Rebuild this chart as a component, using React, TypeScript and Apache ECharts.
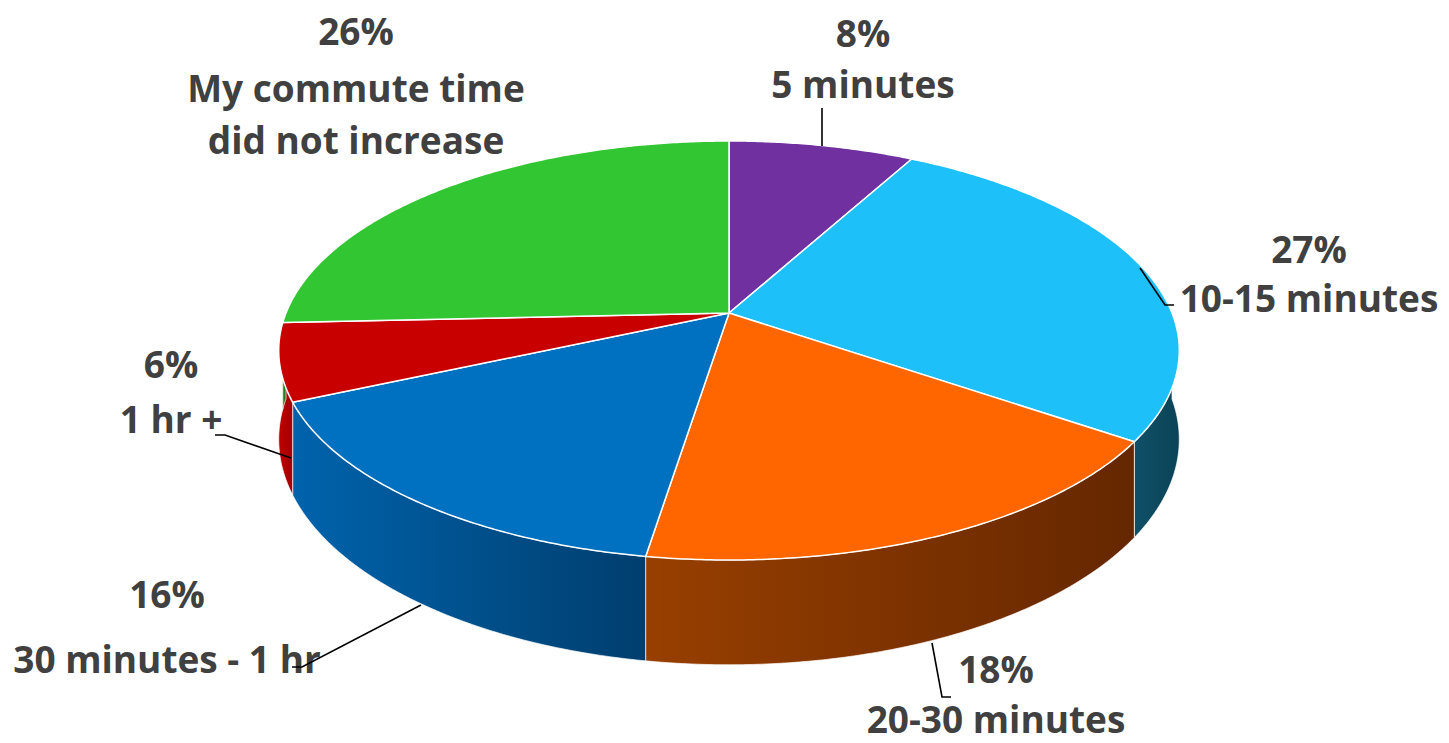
import React, { useEffect, useRef } from 'react';
import * as echarts from 'echarts';

// ---- data ----
const categories = [
  '5 minutes',
  '10-15 minutes',
  '20-30 minutes',
  '30 minutes - 1 hr',
  '1 hr +',
  'My commute time\ndid not increase',
];
const values = [8, 27, 18, 16, 6, 26];

// ---- styles ----
const topColors = ['#7030A0', '#1EC0FA', '#FF6600', '#0070C0', '#C80000', '#33C633'];
const sideColors: string[][] = [
  ['#4F1F75', '#3D1660'],
  ['#0F5068', '#0B4356'],
  ['#983F00', '#652700'],
  ['#0063AC', '#003E6E'],
  ['#C00000', '#A00000'],
  ['#249024', '#1A6E1A'],
];
const textColor = '#404040';
const fontFamily = '"Open Sans", "Noto Sans", sans-serif';
const fontSize = 37;
const lineHeight = 52;

// ---- layout (pie geometry + label placement) ----
const geo = { cx: 729, cy: 313, kx: 443, ky: 202.8, persp: -0.179, depth: 86 };
// [x, yPercent, yName(center of first line)]
const labelPos: number[][] = [
  [863, 32, 83],
  [1309, 248, 297],
  [996, 668, 718],
  [167, 593, 658],
  [171, 363, 418],
  [356, 30, 87],
];
const leaders: number[][][] = [
  [[822, 146], [822, 108]],
  [[1140, 268], [1165, 305], [1174, 305]],
  [[932, 643], [942, 697], [951, 697]],
  [[421, 605], [302, 667], [292, 667]],
  [[291, 458], [225, 435], [215, 435]],
  [],
];

const total = values.reduce((a, b) => a + b, 0);
function sliceAngles(i: number): [number, number] {
  let s = 0;
  for (let j = 0; j < i; j++) s += values[j];
  return [(s / total) * 360, ((s + values[i]) / total) * 360];
}
function proj(deg: number, down = false): number[] {
  const r = (deg * Math.PI) / 180;
  const u = Math.sin(r);
  const v = -Math.cos(r);
  const d = 1 + geo.persp * v;
  const x = geo.cx + (geo.kx * u) / d;
  let y = geo.cy + (geo.ky * v) / d;
  if (down) y += geo.depth / d;
  return [x, y];
}
function arc(a0: number, a1: number, down = false): number[][] {
  const pts: number[][] = [];
  const n = Math.max(2, Math.ceil((a1 - a0) / 0.5));
  for (let k = 0; k <= n; k++) pts.push(proj(a0 + ((a1 - a0) * k) / n, down));
  return pts;
}

export default function App() {
  const ref = useRef<HTMLDivElement>(null);
  useEffect(() => {
    document.body.style.margin = '0';
    if (!ref.current) return;
    const chart = echarts.init(ref.current, null, { renderer: 'svg' });
    const data = values.map((v, i) => ({ name: categories[i], value: v }));
    chart.setOption({
      animation: false,
      backgroundColor: '#ffffff',
      series: [
        {
          type: 'custom',
          name: 'sides',
          coordinateSystem: 'none',
          z: 1,
          silent: true,
          data,
          renderItem: (params: any) => {
            const i = params.dataIndex;
            const [a0, a1] = sliceAngles(i);
            const s0 = Math.max(a0, 90);
            const s1 = Math.min(a1, 270);
            if (s1 <= s0) return { type: 'group', children: [] };
            const top = arc(s0, s1, false);
            const bot = arc(s0, s1, true).reverse();
            return {
              type: 'polygon',
              shape: { points: top.concat(bot) },
              style: {
                fill: new echarts.graphic.LinearGradient(0, 0, 1, 0, [
                  { offset: 0, color: sideColors[i][0] },
                  { offset: 1, color: sideColors[i][1] },
                ]),
                stroke: 'rgba(255,255,255,0.7)',
                lineWidth: 1,
              },
            };
          },
        },
        {
          type: 'custom',
          name: 'tops',
          coordinateSystem: 'none',
          z: 2,
          silent: true,
          data,
          renderItem: (params: any) => {
            const i = params.dataIndex;
            const [a0, a1] = sliceAngles(i);
            const pts = [[geo.cx, geo.cy]].concat(arc(a0, a1));
            return {
              type: 'polygon',
              shape: { points: pts },
              style: { fill: topColors[i], stroke: '#ffffff', lineWidth: 1.5, lineJoin: 'round' },
            };
          },
        },
        {
          type: 'custom',
          name: 'labels',
          coordinateSystem: 'none',
          z: 3,
          silent: true,
          data,
          renderItem: (params: any, api: any) => {
            const i = params.dataIndex;
            const [x, yp, yn] = labelPos[i];
            const pct = Math.round(api.value(0)) + '%';
            const children: any[] = [
              {
                type: 'text',
                x,
                y: yp,
                style: {
                  text: pct,
                  fill: textColor,
                  fontSize,
                  fontWeight: 'bold',
                  fontFamily,
                  align: 'center',
                  verticalAlign: 'middle',
                },
              },
              {
                type: 'text',
                x,
                y: yn - lineHeight / 2,
                style: {
                  text: categories[i],
                  fill: textColor,
                  fontSize,
                  fontWeight: 'bold',
                  fontFamily,
                  lineHeight,
                  align: 'center',
                  verticalAlign: 'top',
                },
              },
            ];
            if (leaders[i].length) {
              children.push({
                type: 'polyline',
                shape: { points: leaders[i] },
                style: { stroke: '#000000', lineWidth: 1.6, fill: 'none' },
              });
            }
            return { type: 'group', children };
          },
        },
      ],
    });
    return () => chart.dispose();
  }, []);
  return <div ref={ref} style={{ width: 1449, height: 743 }} />;
}
